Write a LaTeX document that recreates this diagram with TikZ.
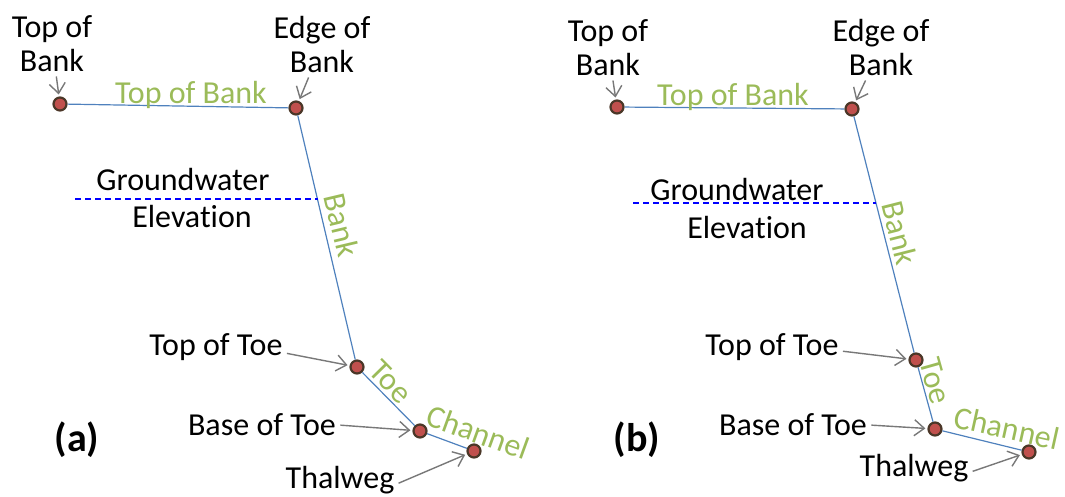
\documentclass[tikz,border=0pt]{standalone}
\usepackage{fontspec}
\setmainfont{Carlito}[Ligatures=NoCommon]
\usetikzlibrary{arrows.meta}
\definecolor{bankgreen}{RGB}{155,187,89}
\definecolor{lineblue}{RGB}{79,129,189}
\definecolor{dotred}{RGB}{192,80,77}
\definecolor{dotrim}{RGB}{75,55,40}
\definecolor{pointergray}{RGB}{120,120,120}

\begin{document}
\begin{tikzpicture}[x=0.5pt, y=-0.5pt,
  every node/.style={font=\fontsize{16}{17}\selectfont, align=center, inner sep=1pt},
  station/.style={circle, draw=dotrim, fill=dotred, line width=1.1pt, minimum size=6.5pt, inner sep=0pt},
  zone/.style={text=bankgreen},
  profile/.style={draw=lineblue, line width=0.6pt},
  gwline/.style={draw=blue, line width=0.6pt, dash pattern=on 3pt off 2pt},
  pointer/.style={draw=pointergray, line width=0.7pt, -{Straight Barb[length=5pt,width=8pt]}, shorten >=1pt, shorten <=1pt},
  panel/.style={font=\fontsize{20}{24}\selectfont\bfseries}]
  \useasboundingbox (0,0) rectangle (1065,497);

  % panel (a)
  \node[station] (tbA) at (60,104) {};
  \node[station] (ebA) at (296,108) {};
  \node[station] (ttA) at (357,367) {};
  \node[station] (btA) at (420,431) {};
  \node[station] (twA) at (474,451) {};
  \draw[profile] (tbA) -- (ebA) -- (ttA) -- (btA) -- (twA);
  \coordinate (gwsA) at (75,199);
  \coordinate (gweA) at (318,199);
  \draw[gwline] (gwsA) -- (gweA);

  \node (tblA) at (52,44) {Top of\\Bank};
  \node (eblA) at (322,45) {Edge of\\Bank};
  \node (gwtA) at (183,180) {Groundwater};
  \node (gwbA) at (192,217) {Elevation};
  \node (ttlA) at (216,347) {Top of Toe};
  \node (btlA) at (262,425) {Base of Toe};
  \node (twlA) at (340,480) {Thalweg};
  \node[panel] (capA) at (77,440) {(a)};

  \node[zone] (zTopA) at (191,95) {Top of Bank};
  \node[zone, rotate=-76.7] (zBankA) at (342,225) {Bank};
  \node[zone, rotate=-45.5] (zToeA) at (391,382) {Toe};
  \node[zone, rotate=-20] (zChanA) at (478,432) {Channel};

  \draw[pointer] (tblA) -- (tbA);
  \draw[pointer] (eblA) -- (ebA);
  \draw[pointer] ([yshift=-3pt]ttlA.east) -- (ttA);
  \draw[pointer] (btlA.east) -- (btA);
  \draw[pointer] ([yshift=-2pt]twlA.east) -- (twA);

  % panel (b)
  \node[station] (tbB) at (617,107) {};
  \node[station] (ebB) at (852,109) {};
  \node[station] (ttB) at (916,360) {};
  \node[station] (btB) at (935,429) {};
  \node[station] (twB) at (1029,452) {};
  \draw[profile] (tbB) -- (ebB) -- (ttB) -- (btB) -- (twB);
  \coordinate (gwsB) at (633,203);
  \coordinate (gweB) at (876,203);
  \draw[gwline] (gwsB) -- (gweB);

  \node (tblB) at (608,48) {Top of\\Bank};
  \node (eblB) at (881,48) {Edge of\\Bank};
  \node (gwtB) at (737,190) {Groundwater};
  \node (gwbB) at (747,228) {Elevation};
  \node (ttlB) at (772,347) {Top of Toe};
  \node (btlB) at (793,425) {Base of Toe};
  \node (twlB) at (914,468) {Thalweg};
  \node[panel] (capB) at (637,440) {(b)};

  \node[zone] (zTopB) at (733,97) {Top of Bank};
  \node[zone, rotate=-75.8] (zBankB) at (900,233) {Bank};
  \node[zone, rotate=-74.3] (zToeB) at (935,381) {Toe};
  \node[zone, rotate=-12.5] (zChanB) at (1007,428) {Channel};

  \draw[pointer] (tblB) -- (tbB);
  \draw[pointer] (eblB) -- (ebB);
  \draw[pointer] ([yshift=-2pt]ttlB.east) -- (ttB);
  \draw[pointer] (btlB.east) -- (btB);
  \draw[pointer] ([yshift=-2pt]twlB.east) -- (twB);
\end{tikzpicture}
\end{document}
